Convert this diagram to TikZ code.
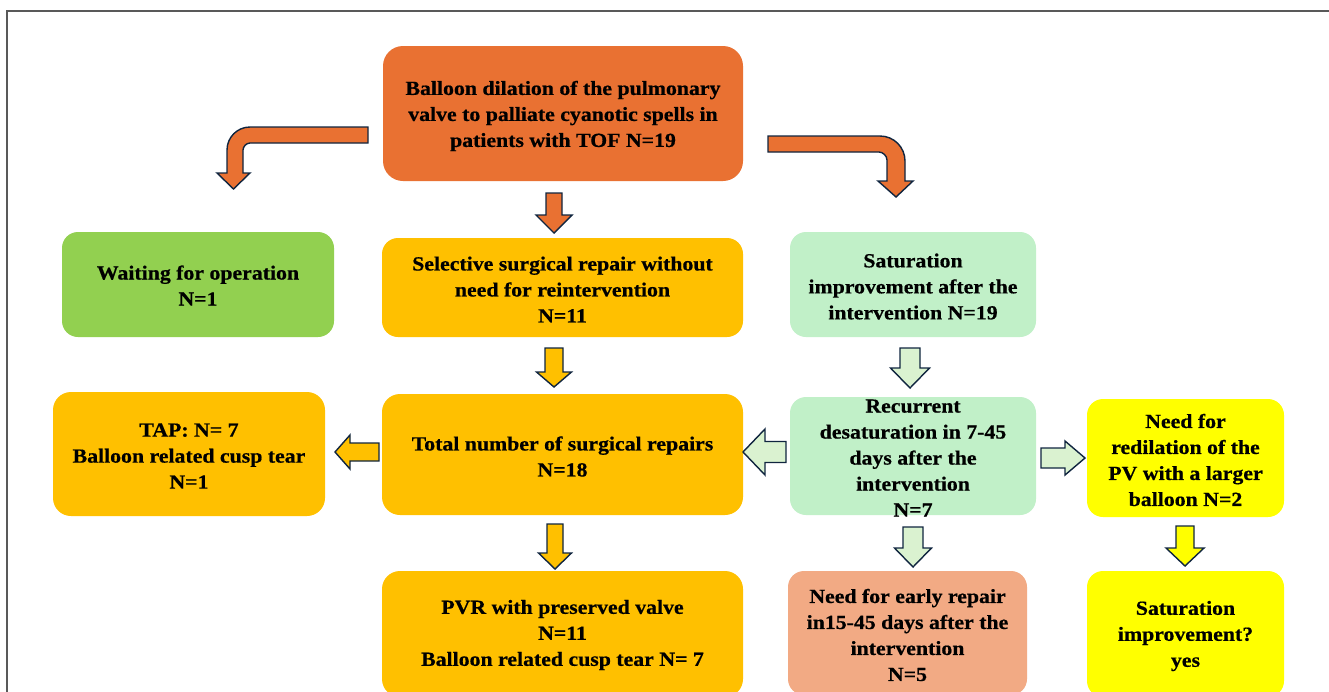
\documentclass[tikz,border=0pt]{standalone}
\usepackage{fontspec}
\setmainfont{Liberation Serif}[FakeStretch=1.09, BoldFeatures={FakeBold=0.6}]
\definecolor{cOrange}{HTML}{E97132}
\definecolor{cGreen}{HTML}{92D050}
\definecolor{cAmber}{HTML}{FFC000}
\definecolor{cLight}{HTML}{C1F0C8}
\definecolor{cYellow}{HTML}{FFFF00}
\definecolor{cSalmon}{HTML}{F2AA84}
\definecolor{cArrowLight}{HTML}{DAF2D0}
\definecolor{cNavy}{HTML}{10253F}
\definecolor{cFrame}{HTML}{595959}
\newcommand\blkdown[7]{%
  \draw[blkarrow, fill=#7] (#1-#4,#2) -- (#1+#4,#2) -- (#1+#4,#3-#6) -- (#1+#5,#3-#6) -- (#1,#3) -- (#1-#5,#3-#6) -- (#1-#4,#3-#6) -- cycle;}
\newcommand\blkleft[7]{%
  \draw[blkarrow, fill=#7] (#2,#3-#4) -- (#1+#6,#3-#4) -- (#1+#6,#3-#5) -- (#1,#3) -- (#1+#6,#3+#5) -- (#1+#6,#3+#4) -- (#2,#3+#4) -- cycle;}
\newcommand\blkright[7]{%
  \draw[blkarrow, fill=#7] (#1,#3-#4) -- (#2-#6,#3-#4) -- (#2-#6,#3-#5) -- (#2,#3) -- (#2-#6,#3+#5) -- (#2-#6,#3+#4) -- (#1,#3+#4) -- cycle;}
\tikzset{
  box/.style={rounded corners=16pt, inner sep=0pt},
  txt/.style={inner sep=0pt, align=center, text=black,
    font=\fontsize{20}{26}\selectfont\bfseries},
  blkarrow/.style={draw=cNavy, line width=1.4pt, line join=miter},
}
\begin{document}
\begin{tikzpicture}[x=1pt, y=-1pt]
\useasboundingbox (0,0) rectangle (1329,691);
\clip (0,0) rectangle (1329,691);
\fill[white] (0,0) rectangle (1329,691);
% frame
\draw[cFrame, line width=1.5pt] (7,700) -- (7,11) -- (1340,11);

% boxes
\node[box, fill=cOrange, minimum width=360pt, minimum height=135pt, rounded corners=20pt] (top) at (563,113.5) {};
\node[txt] (toptxt) at ([yshift=-2.5pt]top.center)
  {Balloon dilation of the pulmonary\\valve to palliate cyanotic spells in\\patients with TOF N=19};
\node[box, fill=cGreen, minimum width=272pt, minimum height=105pt] (wait) at (198,284.5) {};
\node[txt] (waittxt) at ([yshift=-1pt]wait.center) {Waiting for operation\\N=1};
\node[box, fill=cAmber, minimum width=361pt, minimum height=99pt] (sel) at (562.5,287.5) {};
\node[txt] (seltxt) at ([yshift=-2pt]sel.center)
  {Selective surgical repair without\\need for reintervention\\N=11};
\node[box, fill=cLight, minimum width=246pt, minimum height=105pt] (sat) at (913,284.5) {};
\node[txt] (sattxt) at ([yshift=-2pt]sat.center)
  {Saturation\\improvement after the\\intervention N=19};
\node[box, fill=cAmber, minimum width=272pt, minimum height=124pt, rounded corners=18pt] (tap) at (189,454) {};
\node[txt] (taptxt) at ([yshift=-2pt]tap.center) {TAP: N= 7\\Balloon related cusp tear\\N=1};
\node[box, fill=cAmber, minimum width=361pt, minimum height=121pt, rounded corners=18pt] (tot) at (562.5,454.5) {};
\node[txt] (tottxt) at ([yshift=-2pt]tot.center) {Total number of surgical repairs\\N=18};
\node[box, fill=cLight, minimum width=246pt, minimum height=118pt] (rec) at (913,456) {};
\node[txt] (rectxt) at ([yshift=-2pt]rec.center)
  {Recurrent\\desaturation in 7-45\\days after the\\intervention\\N=7};
\node[box, fill=cYellow, minimum width=197pt, minimum height=118pt] (red) at (1185.5,458) {};
\node[txt] (redtxt) at ([yshift=-2pt]red.center)
  {Need for\\redilation of the\\PV with a larger\\balloon N=2};
\node[box, fill=cAmber, minimum width=361pt, minimum height=126pt, rounded corners=18pt] (pvr) at (562.5,634) {};
\node[txt] (pvrtxt) at ([yshift=-1pt]pvr.center)
  {PVR with preserved valve\\N=11\\Balloon related cusp tear N= 7};
\node[box, fill=cSalmon, minimum width=239pt, minimum height=124pt] (early) at (907.5,633) {};
\node[txt] (earlytxt) at ([yshift=-2pt]early.center)
  {Need for early repair\\in15-45 days after the\\intervention\\N=5};
\node[box, fill=cYellow, minimum width=197pt, minimum height=126pt] (satq) at (1185.5,634) {};
\node[txt] (satqtxt) at ([yshift=-2pt]satq.center) {Saturation\\improvement?\\yes};

% bent arrows
\draw[blkarrow, fill=cOrange] (368,127) -- (250,127) .. controls (237.3,127) and (227,137.3) .. (227,150)
  -- (227,173) -- (217,173) -- (233.5,189) -- (250,173) -- (243,173) -- (243,150)
  .. controls (243,146.9) and (246.1,143) .. (250,143) -- (368,143) -- cycle;
\draw[blkarrow, fill=cOrange] (768,136) -- (880,136) .. controls (893.8,136) and (905,147.2) .. (905,161)
  -- (905,181) -- (913,181) -- (896,197) -- (878,181) -- (887,181) -- (887,160)
  .. controls (887,155.6) and (882.6,152) .. (879,152) -- (768,152) -- cycle;

% straight block arrows
\blkdown{554}{193}{233}{8}{18}{18}{cOrange}
\blkdown{554}{348}{387}{9}{17.5}{15}{cAmber}
\blkdown{555}{524}{569}{8}{16.5}{16}{cAmber}
\blkdown{910}{348}{388}{10}{19.5}{20}{cArrowLight}
\blkdown{913}{527}{567}{10}{18.5}{19}{cArrowLight}
\blkdown{1185}{526}{566}{9}{19}{18}{cYellow}
\blkleft{335}{379}{452}{9}{17}{15}{cAmber}
\blkleft{743}{786}{452}{10.5}{23}{22}{cArrowLight}
\blkright{1041}{1085}{458}{10}{17}{20}{cArrowLight}
\end{tikzpicture}
\end{document}
